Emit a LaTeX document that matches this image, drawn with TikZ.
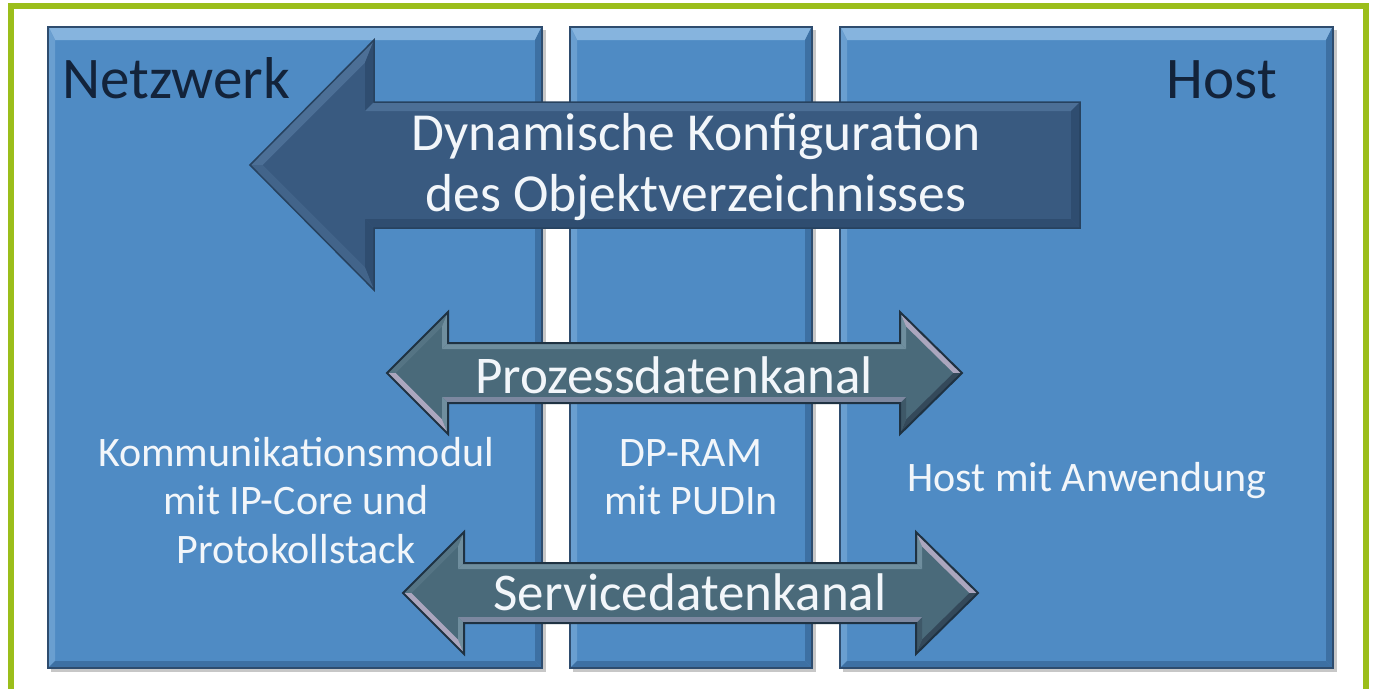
\documentclass[tikz,border=0pt]{standalone}
\usepackage{fontspec}
\setmainfont{Carlito}
\usetikzlibrary{calc}
\definecolor{framegreen}{HTML}{9BBE1A}
\definecolor{panelblue}{HTML}{4F8BC4}
\definecolor{paneldark}{HTML}{2E4C6E}
\definecolor{bevlight}{HTML}{86B4DE}
\definecolor{bevside}{HTML}{6A9FD0}
\definecolor{bevshade}{HTML}{3D70A3}
\definecolor{bigfill}{HTML}{395A80}
\definecolor{bigedge}{HTML}{27425F}
\definecolor{bighi}{HTML}{4C6F96}
\definecolor{bigmid}{HTML}{42648A}
\definecolor{biglow}{HTML}{2F4D70}
\definecolor{chanfill}{HTML}{4A6A7A}
\definecolor{chanedge}{HTML}{1F3242}
\definecolor{chanhi}{HTML}{6F8E9E}
\definecolor{chanmid}{HTML}{557484}
\definecolor{changlint}{HTML}{ABA6BE}
\definecolor{chanlow}{HTML}{34495A}
\definecolor{chanlow2}{HTML}{3E5868}
\definecolor{chanbot}{HTML}{7D88A0}
\definecolor{darktext}{HTML}{13233A}
\definecolor{lighttext}{HTML}{F2F6FA}

\newcommand\panelbevel[1]{%
  \fill[bevlight] ($(#1.north west)+(1,1)$) -- ($(#1.north east)+(-1,1)$) -- ($(#1.north east)+(-7,13)$) -- ($(#1.north west)+(7,13)$) -- cycle;
  \fill[bevside] ($(#1.north west)+(1,1)$) -- ($(#1.north west)+(7,13)$) -- ($(#1.south west)+(7,-7)$) -- ($(#1.south west)+(1,-1)$) -- cycle;
  \fill[bevshade] ($(#1.north east)+(-1,1)$) -- ($(#1.south east)+(-1,-1)$) -- ($(#1.south east)+(-7,-7)$) -- ($(#1.north east)+(-7,13)$) -- cycle;
  \fill[bevshade] ($(#1.south west)+(1,-1)$) -- ($(#1.south east)+(-1,-1)$) -- ($(#1.south east)+(-7,-7)$) -- ($(#1.south west)+(7,-7)$) -- cycle;
  \draw[paneldark, line width=1.5pt] (#1.north west) rectangle (#1.south east);
}

\newcommand\chanarrow{%
  \fill[chanfill] (0,0) -- (61,-61) -- (61,-30) -- (513,-30) -- (513,-61) -- (575,0) -- (513,61) -- (513,30) -- (61,30) -- (61,61) -- cycle;
  \fill[chanmid] (0,0) -- (61,-61) -- (55,-46.5) -- (8.5,0) -- cycle;
  \fill[chanhi] (61,-61) -- (61,-30) -- (55,-24) -- (55,-46.5) -- cycle;
  \fill[chanhi] (61,-30) -- (513,-30) -- (519,-24) -- (55,-24) -- cycle;
  \fill[chanhi] (513,-30) -- (513,-61) -- (519,-46.6) -- (519,-24) -- cycle;
  \fill[changlint] (513,-61) -- (575,0) -- (566.4,0) -- (519,-46.6) -- cycle;
  \fill[chanlow] (575,0) -- (513,61) -- (519,46.6) -- (566.4,0) -- cycle;
  \fill[chanlow2] (513,61) -- (513,30) -- (519,24) -- (519,46.6) -- cycle;
  \fill[chanbot] (513,30) -- (61,30) -- (55,24) -- (519,24) -- cycle;
  \fill[chanhi] (61,30) -- (61,61) -- (55,46.5) -- (55,24) -- cycle;
  \fill[changlint] (61,61) -- (0,0) -- (8.5,0) -- (55,46.5) -- cycle;
  \draw[chanedge, line width=2pt, line join=miter] (0,0) -- (61,-61) -- (61,-30) -- (513,-30) -- (513,-61) -- (575,0) -- (513,61) -- (513,30) -- (61,30) -- (61,61) -- cycle;
}

\begin{document}
\begin{tikzpicture}[x=1pt,y=-1pt,
  panelbox/.style={fill=panelblue, inner sep=0pt, outer sep=0pt, minimum height=641pt},
  titletxt/.style={inner sep=0pt, font=\fontsize{59}{70}\selectfont, text=darktext},
  bigtxt/.style={inner sep=0pt, font=\fontsize{53.5}{62}\selectfont, text=lighttext},
  chantxt/.style={inner sep=0pt, font=\fontsize{53}{60}\selectfont, text=lighttext},
  smalltxt/.style={inner sep=0pt, font=\fontsize{42}{49}\selectfont, text=lighttext}]
\useasboundingbox (0,0) rectangle (1373,688);
\fill[white] (0,0) rectangle (1373,688);
\begin{scope}
\clip (0,0) rectangle (1373,688);
\draw[framegreen, line width=6pt] (11,700) -- (11,5.5) -- (1365.5,5.5) -- (1365.5,700);
\end{scope}

% shadows
\fill[black, opacity=0.22] (51,30) rectangle (546,672);
\fill[black, opacity=0.22] (573,30) rectangle (816,672);
\fill[black, opacity=0.22] (843,30) rectangle (1337,672);

% panels
\node[panelbox, minimum width=494pt] (netzwerkpanel) at (295,347.5) {};
\node[panelbox, minimum width=242pt] (dprampanel) at (691,347.5) {};
\node[panelbox, minimum width=493pt] (hostpanel) at (1086.5,347.5) {};
\panelbevel{netzwerkpanel}
\panelbevel{dprampanel}
\panelbevel{hostpanel}

\node[titletxt, anchor=base west] (netz) at (62,98) {Netzwerk};
\node[titletxt, anchor=base east] (host) at (1277,98) {Host};

% big arrow
\fill[bigfill] (250,165) -- (374,40) -- (374,102) -- (1080,102) -- (1080,228) -- (374,228) -- (374,290) -- cycle;
\fill[bighi] (250,165) -- (374,40) -- (365,62.7) -- (262.7,165) -- cycle;
\fill[biglow] (374,40) -- (374,102) -- (365,111) -- (365,62.7) -- cycle;
\fill[bighi] (374,102) -- (1080,102) -- (1071,111) -- (365,111) -- cycle;
\fill[biglow] (1080,102) -- (1080,228) -- (1071,219) -- (1071,111) -- cycle;
\fill[biglow] (1080,228) -- (374,228) -- (365,219) -- (1071,219) -- cycle;
\fill[biglow] (374,228) -- (374,290) -- (365,267.3) -- (365,219) -- cycle;
\fill[bigmid] (374,290) -- (250,165) -- (262.7,165) -- (365,267.3) -- cycle;
\draw[bigedge, line width=1.5pt] (250,165) -- (374,40) -- (374,102) -- (1080,102) -- (1080,228) -- (374,228) -- (374,290) -- cycle;

\node[bigtxt, anchor=base] (dyn1) at (696,150) {Dynamische Konfiguration};
\node[bigtxt, anchor=base] (dyn2) at (696,211) {des Objektverzeichnisses};

% channel arrows
\begin{scope}[shift={(387,373)}]
\chanarrow
\end{scope}
\begin{scope}[shift={(403,593)}]
\chanarrow
\end{scope}
\node[chantxt, anchor=base] (proz) at (674,393) {Prozessdatenkanal};
\node[chantxt, anchor=base] (serv) at (690,610) {Servicedatenkanal};

% panel descriptions
\node[smalltxt, anchor=base] (komm1) at (296,466) {Kommunikationsmodul};
\node[smalltxt, anchor=base] (komm2) at (296,514) {mit IP-Core und};
\node[smalltxt, anchor=base] (komm3) at (296,563) {Protokollstack};
\node[smalltxt, anchor=base] (dp1) at (691,466) {DP-RAM};
\node[smalltxt, anchor=base] (dp2) at (691,514) {mit PUDIn};
\node[smalltxt, anchor=base] (hosttxt) at (1087,491) {Host mit Anwendung};
\end{tikzpicture}
\end{document}
